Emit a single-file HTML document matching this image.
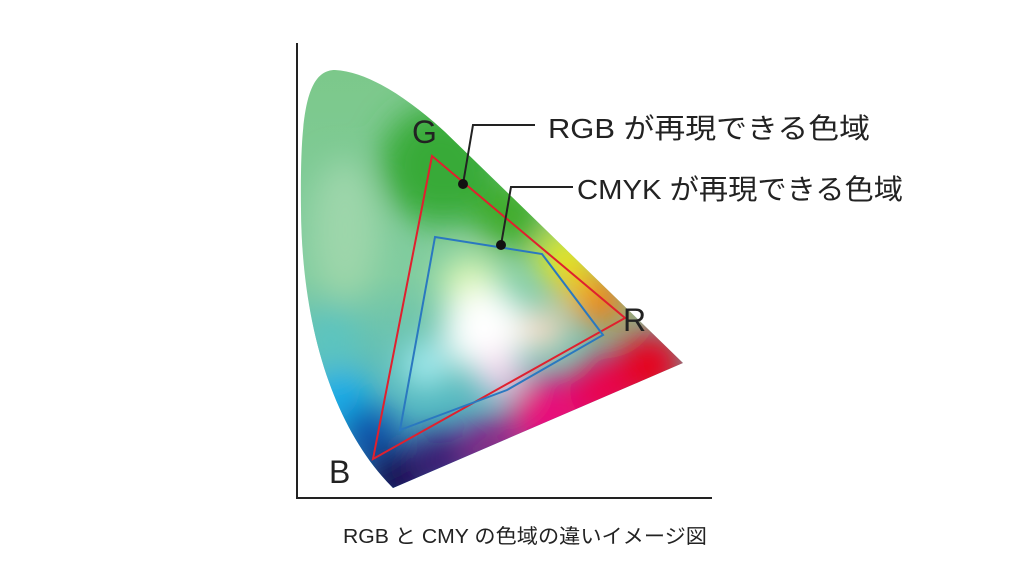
<!DOCTYPE html>
<html><head><meta charset="utf-8"><style>
html,body{margin:0;padding:0;background:#fff;}
svg{display:block}
text{font-family:"Liberation Sans","Noto Sans CJK JP",sans-serif;fill:#222}
</style></head><body>
<svg width="1024" height="576" viewBox="0 0 1024 576" xmlns="http://www.w3.org/2000/svg">
<defs>
<clipPath id="c"><path d="M393,488 L683,363 L445,132 C410,100 370,72 335,70 C305,70 300,120 301,210 C302,330 335,430 393,488 Z"/></clipPath>
<filter id="b" x="-50%" y="-50%" width="200%" height="200%"><feGaussianBlur stdDeviation="16"/></filter>
<linearGradient id="g0" x1="0" y1="0" x2="0" y2="1">
<stop offset="0" stop-color="#7cc888"/><stop offset="0.5" stop-color="#80cca0"/><stop offset="1" stop-color="#30a8d8"/>
</linearGradient>
</defs>
<g clip-path="url(#c)">
<rect x="280" y="50" width="420" height="450" fill="url(#g0)"/>
<g filter="url(#b)">
<ellipse cx="345" cy="230" rx="35" ry="70" fill="#9dd6aa"/>
<circle cx="440" cy="165" r="60" fill="#38aa38"/>
<circle cx="510" cy="215" r="35" fill="#40ac2c"/>
<circle cx="330" cy="340" r="30" fill="#5cc4c0"/>
<circle cx="340" cy="400" r="30" fill="#18acea"/>
<circle cx="370" cy="435" r="30" fill="#0a50a8"/>
<circle cx="395" cy="480" r="32" fill="#140a50"/>
<circle cx="440" cy="460" r="30" fill="#3a1470"/>
<circle cx="490" cy="445" r="28" fill="#8a1a80"/>
<circle cx="550" cy="415" r="40" fill="#e8107a"/>
<circle cx="605" cy="390" r="35" fill="#ec0050"/>
<circle cx="650" cy="365" r="35" fill="#e8001c"/>
<circle cx="600" cy="300" r="28" fill="#f07818"/>
<circle cx="565" cy="258" r="26" fill="#ecec18"/>
<circle cx="575" cy="285" r="20" fill="#f8c020"/>
<circle cx="470" cy="285" r="30" fill="#d8f4b0"/>
<circle cx="485" cy="330" r="42" fill="#ffffff"/>
<circle cx="425" cy="365" r="22" fill="#a8eef4"/>
<circle cx="500" cy="375" r="22" fill="#f8d0ec"/>
<circle cx="545" cy="330" r="22" fill="#fdd8c0"/>
</g>
</g>
<line x1="297" y1="43" x2="297" y2="499" stroke="#222" stroke-width="2"/>
<line x1="296" y1="498" x2="712" y2="498" stroke="#222" stroke-width="2"/>
<polygon points="432,156 625,318 373,459" fill="none" stroke="#e0202e" stroke-width="2"/>
<polygon points="435,237 542,254 603,335 507,390 400,430" fill="none" stroke="#2a78c0" stroke-width="2"/>
<polyline points="463,184 473,125 535,125" fill="none" stroke="#222" stroke-width="2"/>
<polyline points="501,245 511,187 573,187" fill="none" stroke="#222" stroke-width="2"/>
<circle cx="463" cy="184" r="5" fill="#111"/>
<circle cx="501" cy="245" r="5" fill="#111"/>
<text x="548" y="138" font-size="28" textLength="322" lengthAdjust="spacingAndGlyphs">RGB が再現できる色域</text>
<text x="577" y="199" font-size="28" textLength="326" lengthAdjust="spacingAndGlyphs">CMYK が再現できる色域</text>
<text x="412" y="143" font-size="32">G</text>
<text x="623" y="331" font-size="32">R</text>
<text x="329" y="483" font-size="32">B</text>
<text x="343" y="543" font-size="20" textLength="364" lengthAdjust="spacingAndGlyphs">RGB と CMY の色域の違いイメージ図</text>
</svg>
</body></html>
